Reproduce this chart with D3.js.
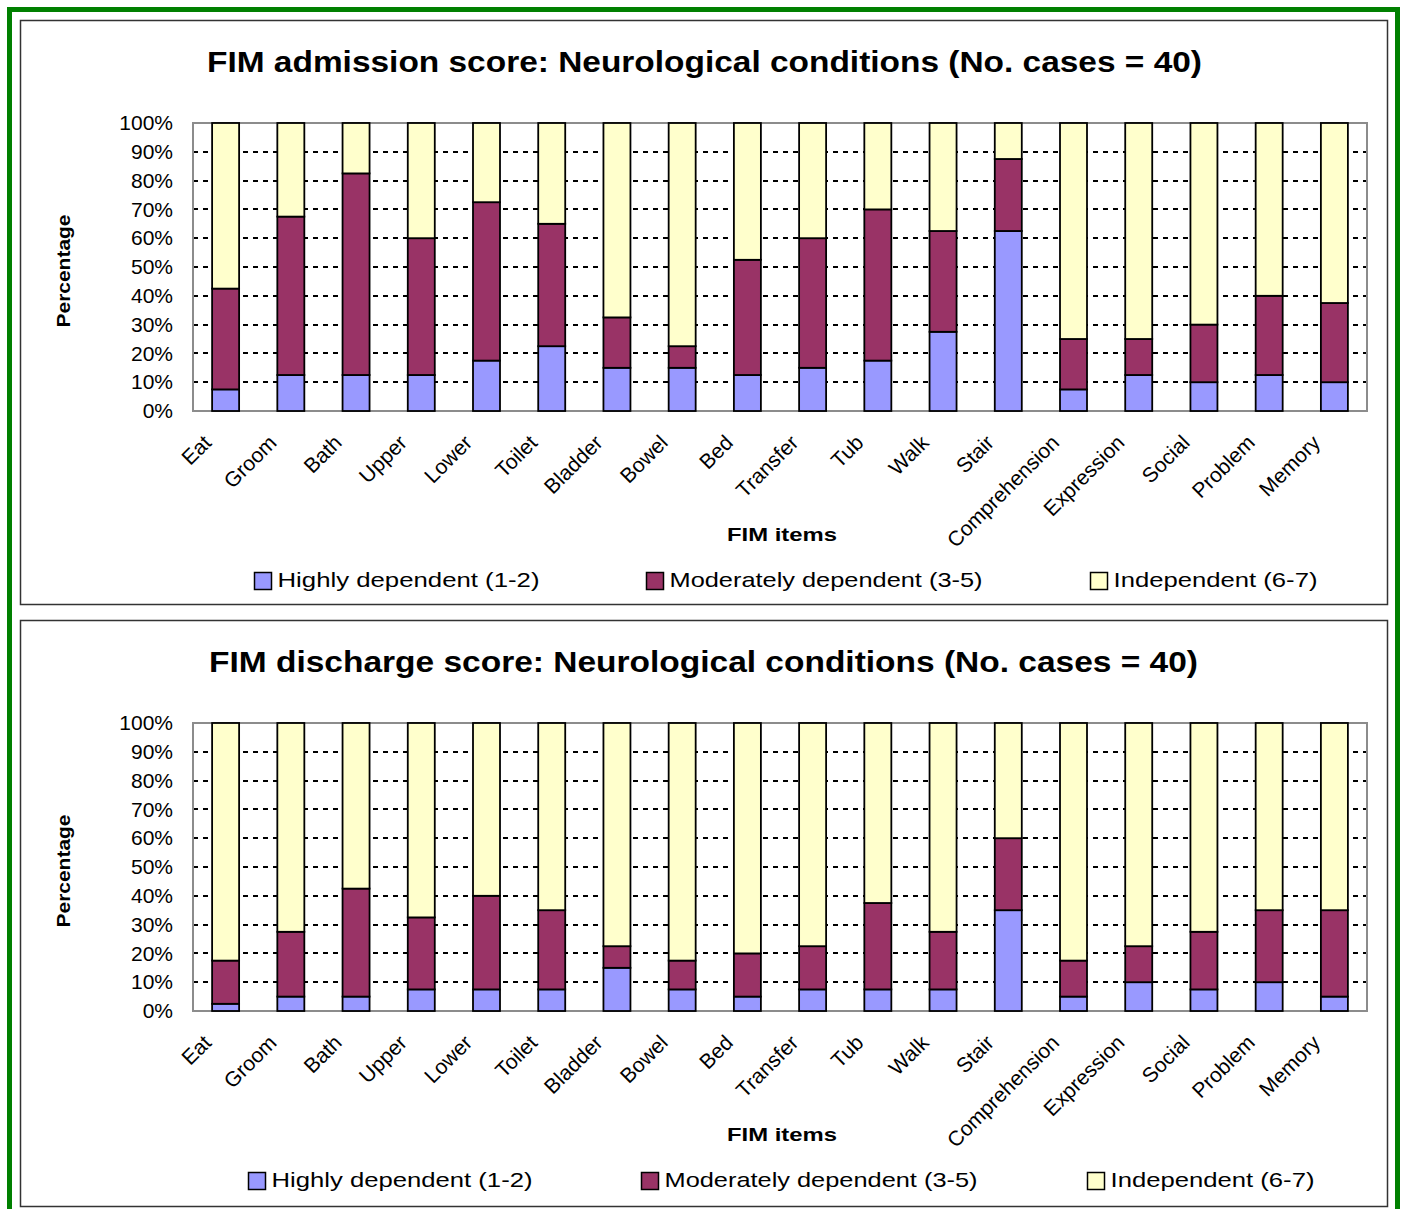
<!DOCTYPE html>
<html><head><meta charset="utf-8">
<script src="https://cdn.jsdelivr.net/npm/d3@7"></script>
<style>
html,body{margin:0;padding:0;background:#fff;}
svg{display:block;}
text{font-family:"Liberation Sans",Arial,sans-serif;fill:#000;}
</style></head>
<body>
<svg id="c" width="1405" height="1209"></svg>
<script>
const categories = ["Eat","Groom","Bath","Upper","Lower","Toilet","Bladder","Bowel","Bed","Transfer","Tub","Walk","Stair","Comprehension","Expression","Social","Problem","Memory"];
const seriesNames = ["Highly dependent (1-2)","Moderately dependent (3-5)","Independent (6-7)"];
const admHigh = [7.5,12.5,12.5,12.5,17.5,22.5,15,15,12.5,15,17.5,27.5,62.5,7.5,12.5,10,12.5,10];
const admMod  = [35,55,70,47.5,55,42.5,17.5,7.5,40,45,52.5,35,25,17.5,12.5,20,27.5,27.5];
const admInd  = [57.5,32.5,17.5,40,27.5,35,67.5,77.5,47.5,40,30,37.5,12.5,75,75,70,60,62.5];
const disHigh = [2.5,5,5,7.5,7.5,7.5,15,7.5,5,7.5,7.5,7.5,35,5,10,7.5,10,5];
const disMod  = [15,22.5,37.5,25,32.5,27.5,7.5,10,15,15,30,20,25,12.5,12.5,20,25,30];
const disInd  = [82.5,72.5,57.5,67.5,60,65,77.5,82.5,80,77.5,62.5,72.5,40,82.5,77.5,72.5,65,65];
const yTicks = [0,10,20,30,40,50,60,70,80,90,100];
const titles = ["FIM admission score: Neurological conditions (No. cases = 40)","FIM discharge score: Neurological conditions (No. cases = 40)"];
const xTitle = "FIM items";
const yTitle = "Percentage";
const colors = ["#9999FF","#993366","#FFFFCC"];

const svg = d3.select("#c");
svg.append("rect").attr("x",9.5).attr("y",9.5).attr("width",1388).attr("height",1230)
  .attr("fill","none").attr("stroke","#008000").attr("stroke-width",5);

function drawChart(oy, cfg){
  const g = svg.append("g").attr("transform",`translate(0,${oy})`);
  g.append("rect").attr("x",20.5).attr("y",20.5).attr("width",1367).attr("height",cfg.boxH)
    .attr("fill","#fff").attr("stroke","#333").attr("stroke-width",1.5);
  const L=193,R=1367,T=123,B=411;
  const x = d3.scaleBand().domain(categories).range([L,R]).paddingInner(0.586).paddingOuter(0.293);
  const y = d3.scaleLinear().domain([0,100]).range([B,T]);
  g.append("text").attr("x",cfg.titleX).attr("y",72).attr("text-anchor","middle")
    .attr("font-weight","bold").attr("font-size",30)
    .attr("textLength",cfg.titleW).attr("lengthAdjust","spacingAndGlyphs").text(cfg.title);
  g.append("rect").attr("x",L).attr("y",T).attr("width",R-L).attr("height",B-T).attr("fill","#fff");
  g.append("g").selectAll("line").data(yTicks.filter(v=>v>0&&v<100)).join("line")
    .attr("x1",L).attr("x2",R).attr("y1",d=>Math.round(y(d))).attr("y2",d=>Math.round(y(d)))
    .attr("stroke","#000").attr("stroke-width",2.2).attr("stroke-dasharray","5,5");
  g.append("rect").attr("x",L).attr("y",T).attr("width",R-L).attr("height",B-T)
    .attr("fill","none").attr("stroke","#8c8c8c").attr("stroke-width",2);
  const ya = g.append("g").attr("transform",`translate(${L},0)`)
    .call(d3.axisLeft(y).tickValues(yTicks).tickSize(0).tickPadding(20).tickFormat(d=>d+"%"));
  ya.select(".domain").remove();
  ya.selectAll("text").attr("font-size",21).attr("font-family","Liberation Sans, Arial, sans-serif").attr("fill","#000");
  const rows = categories.map((c,i)=>({cat:c, h:cfg.high[i], m:cfg.mod[i], ind:cfg.ind[i]}));
  const stack = d3.stack().keys(["h","m","ind"])(rows);
  g.append("g").selectAll("g").data(stack).join("g").attr("fill",(d,i)=>colors[i])
    .selectAll("rect").data(d=>d).join("rect")
    .attr("x",d=>x(d.data.cat)).attr("width",x.bandwidth())
    .attr("y",d=>y(d[1])).attr("height",d=>y(d[0])-y(d[1]))
    .attr("stroke","#000").attr("stroke-width",1.8);
  const xa = g.append("g").attr("transform",`translate(0,${B})`)
    .call(d3.axisBottom(x).tickSize(0).tickPadding(0));
  xa.select(".domain").remove();
  xa.selectAll(".tick text").attr("font-size",21).attr("font-family","Liberation Sans, Arial, sans-serif").attr("fill","#000")
    .attr("text-anchor","end").attr("dy",0).attr("y",0)
    .attr("transform","translate(-13,33) rotate(-45)");
  g.append("text").attr("x",782).attr("y",541).attr("text-anchor","middle").attr("font-weight","bold")
    .attr("font-size",19).attr("textLength",110).attr("lengthAdjust","spacingAndGlyphs").text(xTitle);
  g.append("text").attr("transform",`translate(70,${cfg.yTitleY}) rotate(-90)`).attr("text-anchor","middle")
    .attr("font-weight","bold").attr("font-size",19).attr("textLength",113).attr("lengthAdjust","spacingAndGlyphs").text(yTitle);
  const lg = g.append("g");
  seriesNames.forEach((s,i)=>{
    lg.append("rect").attr("x",cfg.legSq[i]).attr("y",572.5).attr("width",17).attr("height",17)
      .attr("fill",colors[i]).attr("stroke","#000").attr("stroke-width",1.5);
    lg.append("text").attr("x",cfg.legSq[i]+23).attr("y",587).attr("font-size",21)
      .attr("textLength",cfg.legW[i]).attr("lengthAdjust","spacingAndGlyphs").text(s);
  });
}

drawChart(0,{title:titles[0],titleX:704.5,titleW:995,boxH:584,high:admHigh,mod:admMod,ind:admInd,
  yTitleY:271,legSq:[254.5,646.5,1090.5],legW:[262,313,204]});
drawChart(600,{title:titles[1],titleX:703.5,titleW:989,boxH:586,high:disHigh,mod:disMod,ind:disInd,
  yTitleY:271,legSq:[248.5,641.5,1087.5],legW:[261,313,204]});
</script>
</body></html>
